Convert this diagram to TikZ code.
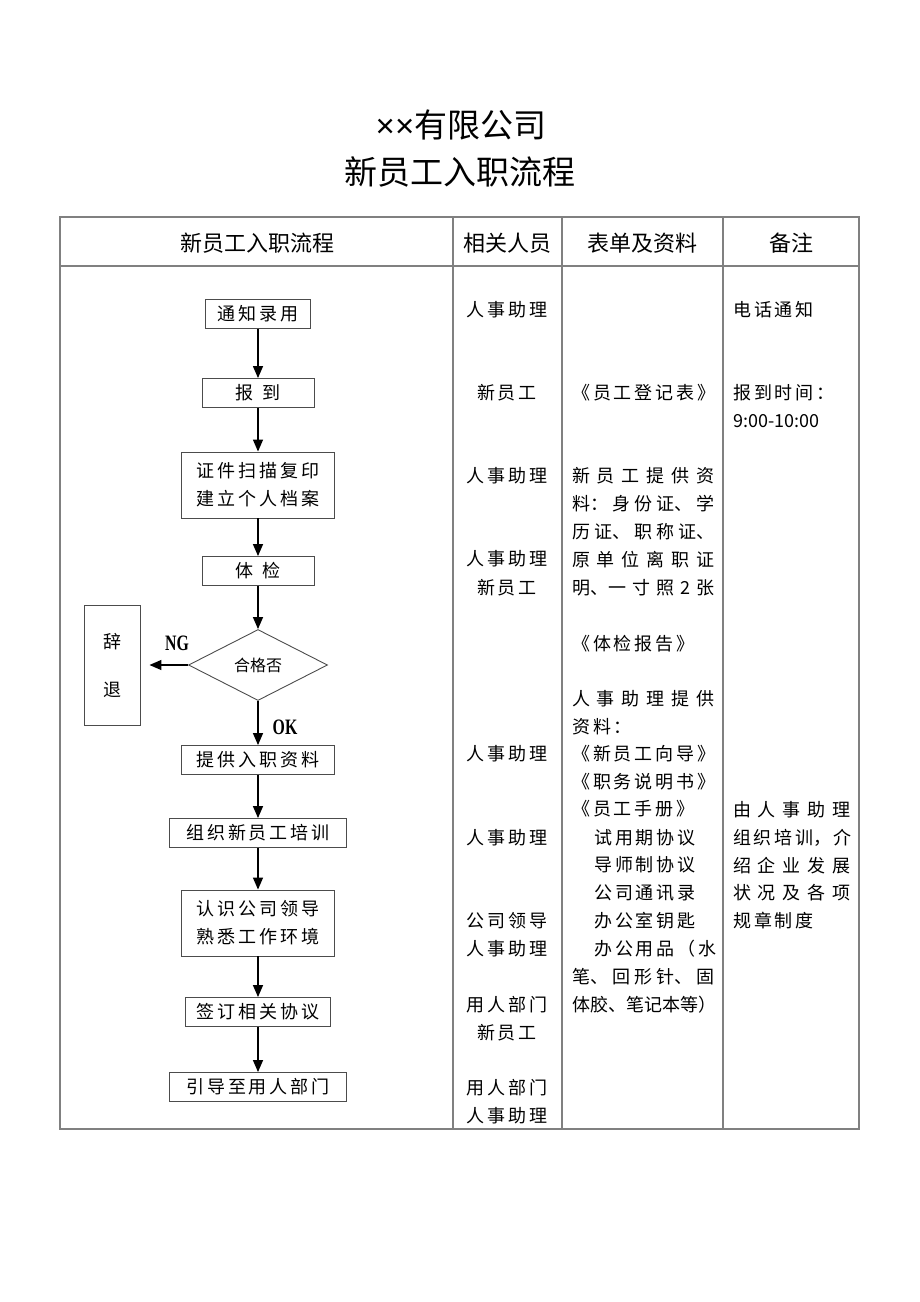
\documentclass[tikz,border=0pt]{standalone}
\usepackage{fontspec}
\setmainfont{Noto Sans CJK SC}
\newfontfamily\cjk[LetterSpace=16]{Noto Sans CJK SC}
\newfontfamily\labfont[FakeStretch=0.72]{Liberation Serif Bold}
\newfontfamily\latin{Liberation Sans}
\usetikzlibrary{shapes.geometric,arrows.meta}
\newcommand\spread[2]{\makebox[#1][s]{\rmfamily\fontsize{18}{28}\selectfont #2}}

\begin{document}
\begin{tikzpicture}[x=1pt,y=-1pt,
    rule/.style={line width=1.5pt,draw=black!50},
    stepbox/.style={draw=black!70,line width=0.9pt,inner sep=0pt,minimum height=29pt,
      align=center,font=\cjk\fontsize{18}{28}\selectfont},
    decision/.style={diamond,draw=black!70,line width=0.9pt,inner sep=0pt,
      minimum width=139pt,minimum height=71pt,font=\fontsize{16}{18}\selectfont},
    arr/.style={-{Triangle[length=12pt,width=10pt]},line width=1.4pt},
    lab/.style={font=\labfont\fontsize{22}{22}\selectfont,inner sep=0pt},
    head/.style={font=\fontsize{22}{26}\selectfont,anchor=base,inner sep=0pt},
    who/.style={font=\cjk\fontsize{18}{28}\selectfont,anchor=base,inner sep=0pt},
    note/.style={font=\cjk\fontsize{18}{28}\selectfont,anchor=base west,inner sep=0pt},
    tightnote/.style={font=\fontsize{18}{28}\selectfont,anchor=base west,inner sep=0pt}]
  \useasboundingbox (0,0) rectangle (920,1302);

  % title
  \node[font=\fontsize{33}{40}\selectfont,anchor=base] (t1) at (461,137) {{\latin ××}有限公司};
  \node[font=\fontsize{33}{40}\selectfont,anchor=base] (t2) at (460,184) {新员工入职流程};

  % table
  \draw[rule] (60,217) rectangle (859,1129);
  \draw[rule] (60,266) -- (859,266);
  \foreach \x in {453,562,723}
    \draw[rule] (\x,217) -- (\x,1129);
  \node[head] (h1) at (257,251) {新员工入职流程};
  \node[head] (h2) at (507,251) {相关人员};
  \node[head] (h3) at (642,251) {表单及资料};
  \node[head] (h4) at (791,251) {备注};

  % flow
  \node[stepbox,minimum width=105pt] (notice) at (258,314) {通知录用};
  \node[stepbox,minimum width=112pt] (report) at (258,393) {报\hspace{0.5em}到};
  \node[stepbox,minimum width=153pt,minimum height=66pt] (scan) at (258,485) {证件扫描复印\\建立个人档案};
  \node[stepbox,minimum width=112pt] (exam) at (258,571) {体\hspace{0.5em}检};
  \node[decision] (pass) at (258,665) {合格否};
  \node[stepbox,minimum width=56pt,minimum height=120pt] (quit) at (112,665) {辞\\[20pt]退};
  \node[stepbox,minimum width=153pt] (provide) at (258,760) {提供入职资料};
  \node[stepbox,minimum width=177pt] (train) at (258,833) {组织新员工培训};
  \node[stepbox,minimum width=153pt,minimum height=66pt] (meet) at (258,923) {认识公司领导\\熟悉工作环境};
  \node[stepbox,minimum width=145pt] (sign) at (258,1012) {签订相关协议};
  \node[stepbox,minimum width=177pt] (guide) at (258,1087) {引导至用人部门};

  \foreach \a/\b in {notice/report,report/scan,scan/exam,exam/pass,pass/provide,
      provide/train,train/meet,meet/sign,sign/guide}
    \draw[arr] (\a) -- (\b);
  \draw[arr,shorten >=9pt] (pass.west) -- (quit.east);
  \node[lab] (ng) at (177,643) {NG};
  \node[lab] (ok) at (285,727) {OK};

  % people
  \foreach \y/\t in {316/人事助理,399/新员工,482/人事助理,565/人事助理,594/新员工,
      760/人事助理,844/人事助理,927/公司领导,955/人事助理,1011/用人部门,
      1039/新员工,1094/用人部门,1122/人事助理}
    \node[who] (who\y) at (507,\y) {\t};

  % forms
  \node[note] (f1) at (572,399) {《员工登记表》};
  \node[note] (f2) at (572,482) {\spread{142pt}{新 员 工 提 供 资}};
  \node[note] (f3) at (572,510) {\spread{142pt}{料： 身 份 证、 学}};
  \node[note] (f4) at (572,538) {\spread{142pt}{历 证、 职 称 证、}};
  \node[note] (f5) at (572,566) {\spread{142pt}{原 单 位 离 职 证}};
  \node[note] (f6) at (572,594) {\spread{142pt}{明、一 寸 照 2 张}};
  \node[note] (f7) at (572,650) {《体检报告》};
  \node[note] (f8) at (572,705) {\spread{142pt}{人 事 助 理 提 供}};
  \node[note] (f9) at (572,733) {资料：};
  \node[note] (f10) at (572,760) {《新员工向导》};
  \node[note] (f11) at (572,788) {《职务说明书》};
  \node[note] (f12) at (572,815) {《员工手册》};
  \foreach \y/\t in {844/试用期协议,871/导师制协议,899/公司通讯录,927/办公室钥匙,955/办公用品（水}
    \node[note] (g\y) at (594,\y) {\t};
  \node[note] (f13) at (572,983) {\spread{142pt}{笔、 回 形 针、 固}};
  \node[tightnote] (f14) at (572,1011) {体胶、笔记本等）};

  % remarks
  \node[note] (r1) at (733,316) {电话通知};
  \node[note] (r2) at (733,399) {报到时间：};
  \node[tightnote] (r3) at (733,427) {9:00-10:00};
  \node[note] (r4) at (733,816) {\spread{117pt}{由 人 事 助 理}};
  \node[note] (r5) at (733,844) {\spread{117pt}{组 织 培 训， 介}};
  \node[note] (r6) at (733,872) {\spread{117pt}{绍 企 业 发 展}};
  \node[note] (r7) at (733,899) {\spread{117pt}{状 况 及 各 项}};
  \node[note] (r8) at (733,927) {规章制度};
\end{tikzpicture}
\end{document}
